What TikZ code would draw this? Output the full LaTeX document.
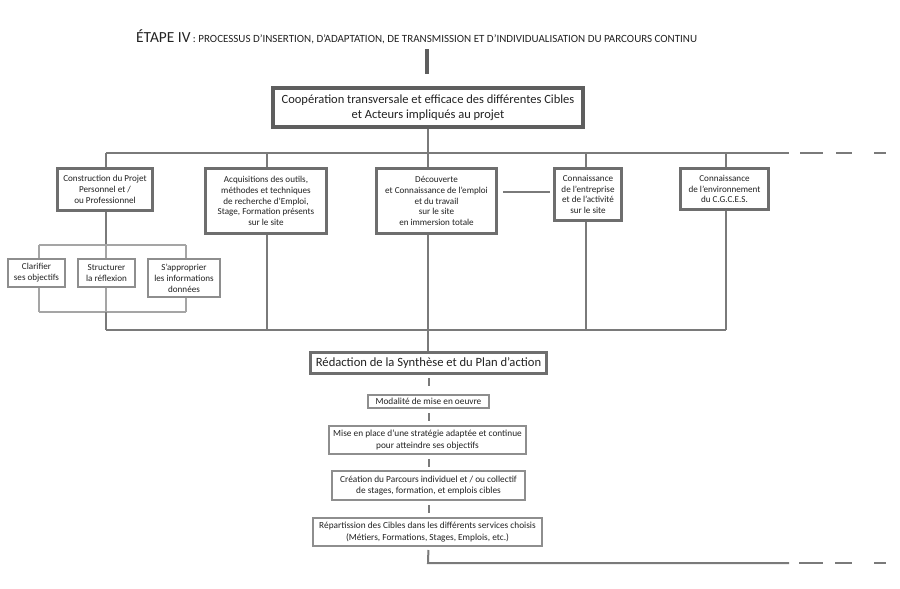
\documentclass[tikz,border=0pt]{standalone}
\usepackage{fontspec}
\setmainfont{Carlito}
\definecolor{linegray}{HTML}{7A7A7A}
\definecolor{boxdark}{HTML}{5E5E5E}
\definecolor{boxmid}{HTML}{6E6E6E}
\definecolor{boxlight}{HTML}{8E8E8E}
\definecolor{txt}{HTML}{222222}
\tikzset{
  conn/.style={draw=linegray, line width=2pt},
  lconn/.style={draw=boxlight!80, line width=2pt},
  basebox/.style={fill=white, align=center, inner sep=0pt, text=txt},
  bigbox/.style={basebox, draw=boxdark, line width=4.5pt, font=\fontsize{12.5}{14.5}\selectfont},
  midbox/.style={basebox, draw=boxmid, line width=3pt, font=\fontsize{9.1}{10.8}\selectfont},
  redbox/.style={basebox, draw=boxmid, line width=3.5pt, font=\fontsize{12.6}{14}\selectfont},
  subbox/.style={basebox, draw=boxlight, line width=2pt, font=\fontsize{9.1}{11}\selectfont},
  lowbox/.style={basebox, draw=boxlight, line width=2pt, font=\fontsize{9.3}{11.8}\selectfont},
}
\begin{document}
\begin{tikzpicture}[x=1pt,y=-1pt]
\useasboundingbox (0,0) rectangle (900,589);
% title
\node[anchor=base west, inner sep=0pt, text=txt] (title) at (136,42)
  {{\fontsize{15.4}{17}\selectfont ÉTAPE IV}{\fontsize{11}{12}\selectfont\ : PROCESSUS D'INSERTION, D'ADAPTATION, DE TRANSMISSION ET D'INDIVIDUALISATION DU PARCOURS CONTINU}};
\coordinate (tbar1) at (427,49);
\coordinate (tbar2) at (427,74);
\draw[draw=boxdark, line width=4pt] (tbar1) -- (tbar2);

% main box
\node[bigbox, minimum width=310pt, minimum height=39pt] (main) at (428,107.5)
  {Coopération transversale et efficace des différentes Cibles\\et Acteurs impliqués au projet};

% level 2 boxes
\node[midbox, minimum width=95pt, minimum height=42pt] (A) at (105,189.5)
  {Construction du Projet\\Personnel et /\\ou Professionnel};
\node[midbox, minimum width=121pt, minimum height=65pt] (B) at (266,201)
  {Acquisitions des outils,\\méthodes et techniques\\de recherche d'Emploi,\\Stage, Formation présents\\sur le site};
\node[midbox, minimum width=120pt, minimum height=65pt] (C) at (436.5,201)
  {Découverte\\et Connaissance de l'emploi\\et du travail\\sur le site\\en immersion totale};
\node[midbox, minimum width=67pt, minimum height=52pt] (D) at (588,194.5)
  {Connaissance\\de l'entreprise\\et de l'activité\\sur le site};
\node[midbox, minimum width=88pt, minimum height=41pt] (E) at (724.5,189)
  {Connaissance\\de l'environnement\\du C.G.C.E.S.};

% sub boxes
\node[subbox, minimum width=57pt, minimum height=28pt] (a1) at (36.5,273) {Clarifier\\ses objectifs};
\node[subbox, minimum width=57pt, minimum height=28pt] (a2) at (106.5,273) {Structurer\\la réflexion};
\node[subbox, minimum width=72pt, minimum height=38pt] (a3) at (184,278) {S'approprier\\les informations\\données};

% lower chain
\node[redbox, minimum width=236pt, minimum height=21pt] (R) at (428.5,363) {Rédaction de la Synthèse et du Plan d'action};
\node[lowbox, minimum width=121pt, minimum height=13pt] (L1) at (428.5,401.5) {Modalité de mise en oeuvre};
\node[lowbox, minimum width=197pt, minimum height=28pt] (L2) at (427.5,440) {Mise en place d'une stratégie adaptée et continue\\pour atteindre ses objectifs};
\node[lowbox, minimum width=193pt, minimum height=29pt] (L3) at (428.5,485.5) {Création du Parcours individuel et / ou collectif\\de stages, formation, et emplois cibles};
\node[lowbox, minimum width=229pt, minimum height=28pt] (L4) at (427.5,532) {Répartission des Cibles dans les différents services choisis\\(Métiers, Formations, Stages, Emplois, etc.)};

% coordinates of buses
\coordinate (busL) at (106,153);
\coordinate (busR) at (789,153);
\coordinate (xA) at (106,153);
\coordinate (xB) at (267,153);
\coordinate (xC) at (428,153);
\coordinate (xD) at (586,153);
\coordinate (xE) at (726,153);
\coordinate (bbL) at (106,330);
\coordinate (bbR) at (726,330);
\coordinate (sbT) at (106,245);
\coordinate (s1) at (39,245);
\coordinate (s3) at (186,245);
\coordinate (sbB) at (106,312);
\coordinate (t1) at (39,312);
\coordinate (t3) at (186,312);

% top connections
\draw[conn] (main.south) -- (main.south |- busL);
\draw[conn] (busL) -- (busR);
\foreach \a/\b in {800/823, 836/852, 874/886}{
  \draw[conn] (\a,153) -- (\b,153);
}
\draw[conn] (xA) -- (xA |- A.north);
\draw[conn] (xB) -- (xB |- B.north);
\draw[conn] (xC) -- (xC |- C.north);
\draw[conn] (xD) -- (xD |- D.north);
\draw[conn] (xE) -- (xE |- E.north);

% bottom connections
\draw[conn] (xB |- B.south) -- (xB |- bbL);
\draw[conn] (xC |- C.south) -- (xC |- R.north);
\draw[conn] (xD |- D.south) -- (xD |- bbL);
\draw[conn] (xE |- E.south) -- (bbR);
\draw[conn] (bbL) -- (bbR);
\draw[conn, shorten <=5pt, shorten >=3pt] (C.east |- 0,192) -- (D.west |- 0,192);

% sub tree
\draw[conn] (xA |- A.south) -- (sbT);
\draw[lconn] (s1) -- (s3);
\draw[lconn] (s1) -- (s1 |- a1.north);
\draw[lconn] (sbT) -- (sbT |- a2.north);
\draw[lconn] (s3) -- (s3 |- a3.north);
\draw[lconn] (s1 |- a1.south) -- (t1);
\draw[lconn] (sbB |- a2.south) -- (sbB);
\draw[lconn] (s3 |- a3.south) -- (t3);
\draw[lconn] (t1) -- (t3);
\draw[conn] (sbB) -- (bbL);

% lower chain
\draw[conn, shorten <=3pt, shorten >=8pt] (R.south) -- (R.south |- L1.north);
\draw[conn, shorten <=4pt, shorten >=4pt] (R.south |- L1.south) -- (R.south |- L2.north);
\draw[conn, shorten <=4pt, shorten >=3pt] (R.south |- L2.south) -- (R.south |- L3.north);
\draw[conn, shorten <=4pt, shorten >=4pt] (R.south |- L3.south) -- (R.south |- L4.north);
\coordinate (endL) at (428,563);
\coordinate (endR) at (789,563);
\draw[conn, shorten <=3pt] (R.south |- L4.south) -- (endL) -- (endR);
\foreach \a/\b in {799/823, 835/852, 874/886}{
  \draw[conn] (\a,563) -- (\b,563);
}
\end{tikzpicture}
\end{document}
